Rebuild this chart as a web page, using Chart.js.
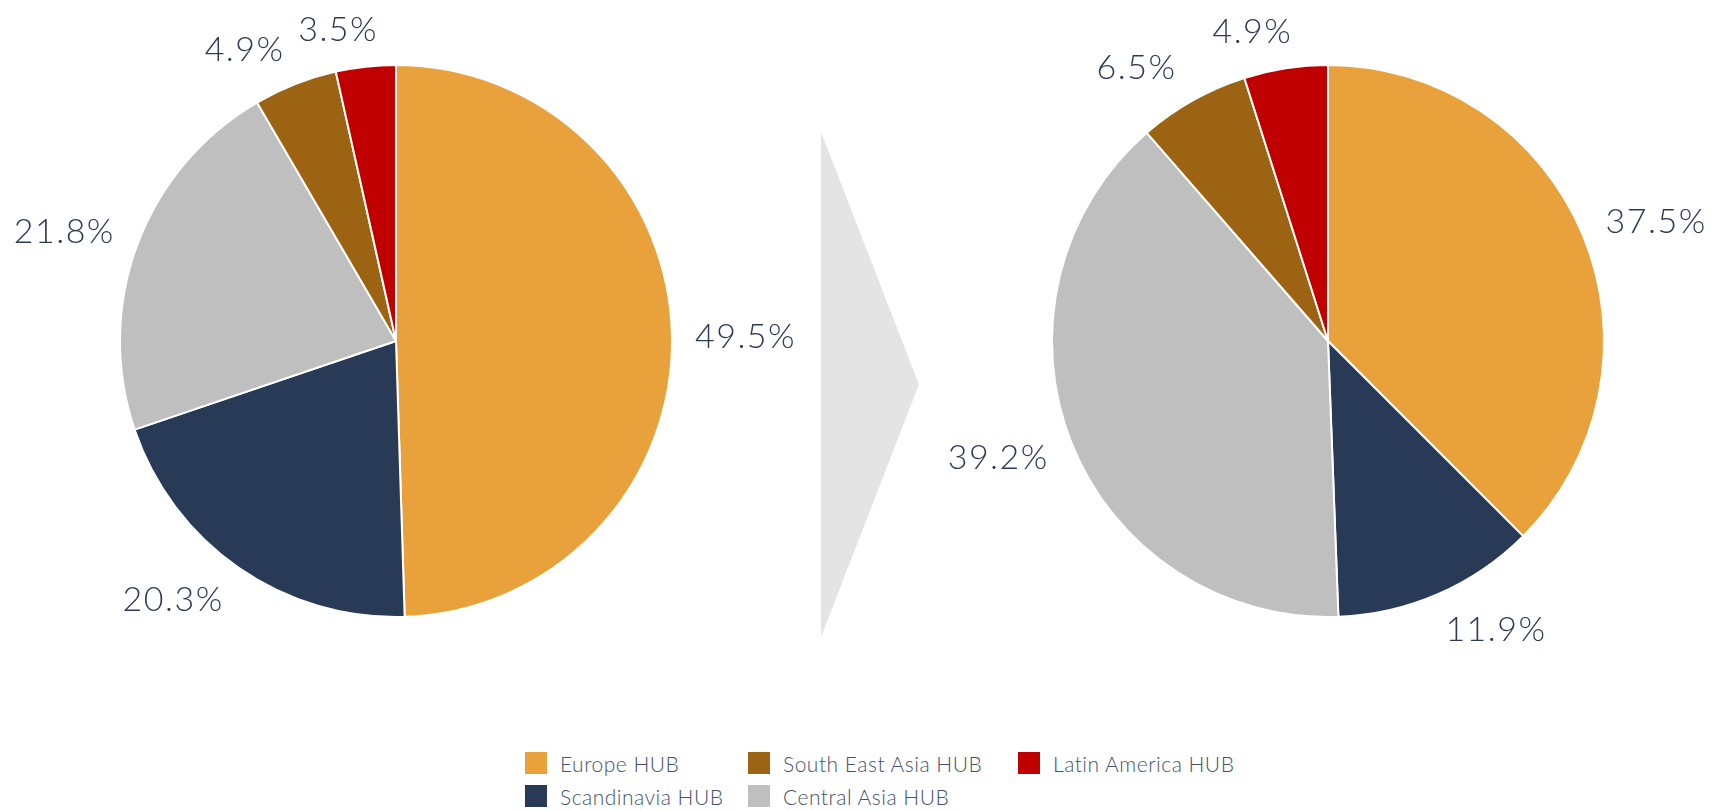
<!DOCTYPE html>
<html>
<head>
<meta charset="utf-8">
<title>HUB share</title>
<script src="https://cdn.jsdelivr.net/npm/chart.js@4/dist/chart.umd.min.js"></script>
<style>
  html, body { margin: 0; padding: 0; background: #fff; }
  body { width: 1714px; height: 810px; position: relative; overflow: hidden; font-family: Lato, "Open Sans", sans-serif; }
  canvas { position: absolute; }
  #pieBefore { left: 0; top: 0; }
  #pieAfter { left: 942px; top: 0; }
  .arrow {
    position: absolute; left: 821px; top: 132px; width: 98px; height: 505px;
    background: #e4e4e4;
    clip-path: polygon(0 0, 100% 50%, 0 100%);
  }
  #legend {
    position: absolute; left: 525px; top: 752px;
    display: grid; grid-template-columns: 223px 270px auto; grid-auto-rows: 33px;
  }
  .item { display: flex; align-items: center; height: 22px; color: #44546a; font-size: 21px; font-weight: 300; letter-spacing: 0.5px; }
  .swatch { width: 22px; height: 22px; margin-right: 13px; flex: none; }
</style>
</head>
<body>
<canvas id="pieBefore" width="860" height="682"></canvas>
<div class="arrow"></div>
<canvas id="pieAfter" width="772" height="682"></canvas>
<div id="legend"></div>

<script>
const categories = ['Europe HUB', 'Scandinavia HUB', 'Central Asia HUB', 'South East Asia HUB', 'Latin America HUB'];
const colors = ['#e9a23b', '#283a55', '#bfbfbf', '#9c6312', '#c00000'];
const sharesBefore = [49.5, 20.3, 21.8, 4.9, 3.5];
const sharesAfter = [37.5, 11.9, 39.2, 6.5, 4.9];
// legend reads row by row: Europe, SEA, Latin / Scandinavia, Central Asia
const legendOrder = [0, 3, 4, 1, 2];

const LABEL_COLOR = '#2b3a55';

// percentage labels outside each slice; the horizontal offset is eased
// (|cos|^0.8) so labels near the top and bottom spread sideways a bit
const outsideLabels = {
  id: 'outsideLabels',
  afterDatasetsDraw(chart) {
    const ctx = chart.ctx;
    const meta = chart.getDatasetMeta(0);
    const values = chart.data.datasets[0].data;
    ctx.save();
    ctx.font = '300 34px Lato';
    ctx.letterSpacing = '1.5px';
    ctx.fillStyle = LABEL_COLOR;
    ctx.textAlign = 'center';
    ctx.textBaseline = 'alphabetic';
    meta.data.forEach((arc, i) => {
      const p = arc.getProps(['x', 'y', 'startAngle', 'endAngle', 'outerRadius'], true);
      const mid = (p.startAngle + p.endAngle) / 2;
      const text = values[i].toFixed(1) + '%';
      const m = ctx.measureText(text);
      const gap = 23;
      const c = Math.cos(mid), s = Math.sin(mid);
      const cx = p.x + Math.sign(c) * Math.pow(Math.abs(c), 0.8) * (p.outerRadius + gap + m.width / 2);
      const cy = p.y + s * (p.outerRadius + gap + 15);
      ctx.fillText(text, cx, cy + m.actualBoundingBoxAscent / 2);
    });
    ctx.restore();
  }
};

function drawPie(id, values, pad) {
  new Chart(document.getElementById(id), {
    type: 'pie',
    data: {
      labels: categories,
      datasets: [{ data: values, backgroundColor: colors, borderColor: '#ffffff', borderWidth: 2 }]
    },
    options: {
      responsive: false,
      animation: false,
      layout: { padding: pad },
      plugins: { legend: { display: false }, tooltip: { enabled: false } }
    },
    plugins: [outsideLabels]
  });
}

function buildLegend() {
  const box = document.getElementById('legend');
  legendOrder.forEach(i => {
    const item = document.createElement('div');
    item.className = 'item';
    const sw = document.createElement('span');
    sw.className = 'swatch';
    sw.style.background = colors[i];
    const label = document.createElement('span');
    label.textContent = categories[i];
    item.appendChild(sw);
    item.appendChild(label);
    box.appendChild(item);
  });
}

drawPie('pieBefore', sharesBefore, { left: 119, right: 187, top: 64, bottom: 64 });
drawPie('pieAfter', sharesAfter, { left: 109, right: 109, top: 64, bottom: 64 });
buildLegend();
</script>
</body>
</html>
